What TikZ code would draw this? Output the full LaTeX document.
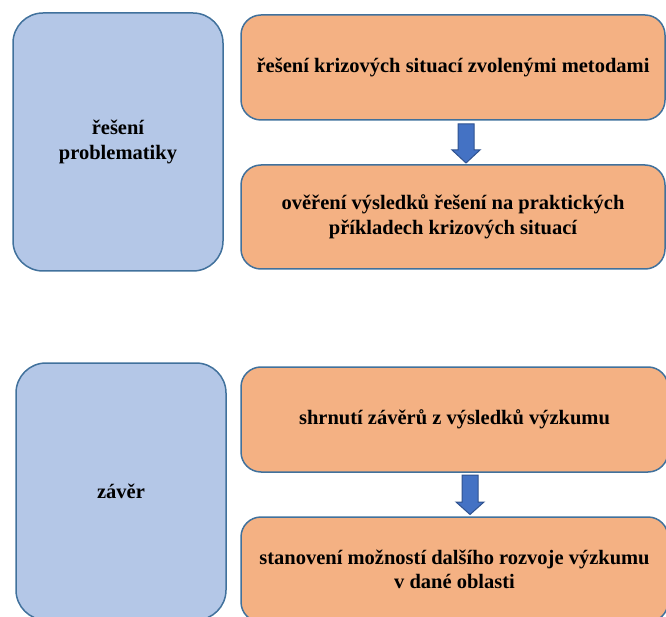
\documentclass[tikz,border=0pt]{standalone}
\usepackage{fontspec}
\setmainfont{Liberation Serif}[BoldFont={Liberation Serif Bold}]
\usetikzlibrary{calc}
\definecolor{phaseFill}{HTML}{B4C7E7}
\definecolor{stepFill}{HTML}{F4B183}
\definecolor{edgeBlue}{HTML}{41719C}
\definecolor{arrowFill}{HTML}{4472C4}
\definecolor{arrowEdge}{HTML}{2F528F}
\tikzset{
  boxtext/.style={font=\fontsize{20.5}{24.5}\selectfont\bfseries, align=center, text=black},
  phase/.style={boxtext, draw=edgeBlue, fill=phaseFill, line width=1.5pt,
    rounded corners=30pt, inner sep=0pt, outer sep=0pt,
    minimum width=210pt},
  stepbox/.style={boxtext, draw=edgeBlue, fill=stepFill, line width=1.5pt,
    rounded corners=20pt, inner sep=0pt, outer sep=0pt},
  blockarrow/.style={draw=arrowEdge, fill=arrowFill, line width=1pt, line join=miter}
}
\begin{document}
\begin{tikzpicture}[x=1pt, y=-1pt]
  \useasboundingbox (0,0) rectangle (666,617);
  \clip (0,0) rectangle (666,617);

  % upper phase: solving the problem
  \node[phase, minimum height=258pt] (p1) at (118,142) {řešení\\problematiky};
  \node[stepbox, minimum width=424pt, minimum height=105pt] (s1) at (453,67.5)
    {řešení krizových situací zvolenými metodami};
  \node[stepbox, minimum width=424pt, minimum height=104pt] (s2) at (453,217)
    {ověření výsledků řešení na praktických\\příkladech krizových situací};

  % lower phase: conclusion
  \node[phase, minimum height=257pt] (p2) at (121,491.5) {závěr};
  \node[stepbox, minimum width=427pt, minimum height=105pt] (s3) at (454.5,419.5)
    {shrnutí závěrů z výsledků výzkumu};
  \node[stepbox, minimum width=427pt, minimum height=105pt] (s4) at (454.5,569.5)
    {stanovení možností dalšího rozvoje výzkumu\\v dané oblasti};

  % block arrows between the steps
  \draw[blockarrow]
    ($(s1.south)+(5,4)$) -- ($(s1.south)+(21,4)$) --
    ($(s2.north)+(21,-15)$) -- ($(s2.north)+(27,-15)$) --
    ($(s2.north)+(13,-2)$) --
    ($(s2.north)+(-1,-15)$) -- ($(s2.north)+(5,-15)$) -- cycle;
  \draw[blockarrow]
    ($(s3.south)+(7.5,3)$) -- ($(s3.south)+(23.5,3)$) --
    ($(s4.north)+(23.5,-15)$) -- ($(s4.north)+(29.5,-15)$) --
    ($(s4.north)+(15.5,-2.5)$) --
    ($(s4.north)+(1.5,-15)$) -- ($(s4.north)+(7.5,-15)$) -- cycle;
\end{tikzpicture}
\end{document}
